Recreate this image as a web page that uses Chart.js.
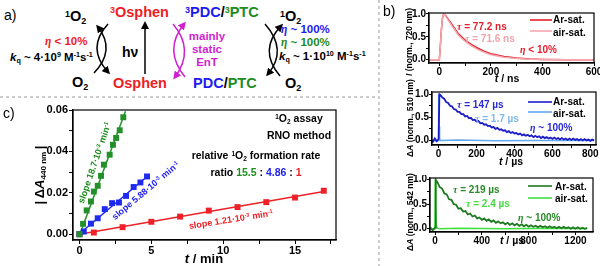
<!DOCTYPE html>
<html>
<head>
<meta charset="utf-8">
<script src="https://cdn.jsdelivr.net/npm/chart.js@4.4.1/dist/chart.umd.min.js"></script>
<style>
html, body { margin: 0; padding: 0; background: #fff; }
#fig { position: relative; width: 600px; height: 266px; overflow: hidden; font-family: "Liberation Sans", Arial, sans-serif; color: #000; }
#fig canvas, #fig svg { position: absolute; }
.t { position: absolute; transform: translate(-50%, -50%); white-space: nowrap; font-weight: bold; line-height: 1; }
.l { position: absolute; transform: translate(0, -50%); white-space: nowrap; font-weight: bold; line-height: 1; }
sup { font-size: .62em; vertical-align: 0; position: relative; top: -.5em; }
sub { font-size: .62em; vertical-align: 0; position: relative; top: .3em; }
.g { font-family: "Liberation Serif", "DejaVu Serif", serif; font-style: italic; }
.a14 { font-size: 14.5px; }
.a11 { font-size: 11.5px; }
.c10 { font-size: 10.5px; }
.s9 { font-size: 9px; }
.yt { font-size: 8.5px; }
.b10 { font-size: 10px; }
.red { color: #ee1c24; }
.blue { color: #1c1cf0; }
.green { color: #1e8c1e; }
.mag { color: #d21fd2; }
</style>
</head>
<body>
<div id="fig">
  <svg width="600" height="266" style="left:0;top:0">
    <defs>
      <marker id="hk" markerWidth="8" markerHeight="8" refX="5" refY="4" orient="auto" markerUnits="userSpaceOnUse">
        <path d="M0,0 L8,4 L0,8 z" fill="#000"/>
      </marker>
      <marker id="hm" markerWidth="8" markerHeight="8" refX="5" refY="4" orient="auto" markerUnits="userSpaceOnUse">
        <path d="M0,0 L8,4 L0,8 z" fill="#d21fd2"/>
      </marker>
    </defs>
    <line x1="379" y1="0" x2="379" y2="266" stroke="#999" stroke-width="1" stroke-dasharray="3,3"/>
    <line x1="0" y1="97" x2="376" y2="97" stroke="#999" stroke-width="1" stroke-dasharray="3,3"/>
    <g fill="none" stroke-width="1.5">
      <path d="M94,73 Q116,50 98,27" stroke="#000" marker-end="url(#hk)"/>
      <path d="M108,24 Q86,48 108,72" stroke="#000" marker-end="url(#hk)"/>
      <path d="M145,74 L145,24" stroke="#000" marker-end="url(#hk)"/>
      <path d="M173,24 Q195,50 175,77" stroke="#d21fd2" marker-end="url(#hm)"/>
      <path d="M185,77 Q163,50 184,24" stroke="#d21fd2" marker-end="url(#hm)"/>
      <path d="M265,24 Q288,50 268,74" stroke="#000" marker-end="url(#hk)"/>
      <path d="M280,76 Q258,50 281,26" stroke="#000" marker-end="url(#hk)"/>
    </g>
  </svg>

  <canvas id="chartC" width="345" height="166" style="left:0;top:100px"></canvas>
  <canvas id="chartB1" width="220" height="88" style="left:380px;top:0"></canvas>
  <canvas id="chartB2" width="220" height="88" style="left:380px;top:88px"></canvas>
  <canvas id="chartB3" width="220" height="91" style="left:380px;top:175px"></canvas>

  <!-- panel a -->
  <div class="l" style="left:4px;top:15px;font-size:14px;font-weight:normal">a)</div>
  <div class="l a14" style="left:65px;top:16px"><sup>1</sup>O<sub>2</sub></div>
  <div class="l a14" style="left:72px;top:82px">O<sub>2</sub></div>
  <div class="l a11 red" style="left:45px;top:42px"><span class="g">η</span> &lt; 10%</div>
  <div class="l a11" style="left:10px;top:58px"><i>k</i><sub>q</sub> ~ 4·10<sup>9</sup> M<sup>-1</sup>s<sup>-1</sup></div>
  <div class="l" style="left:122px;top:52px;font-size:14px">hν</div>
  <div class="l a14 red" style="left:110px;top:12px"><sup>3</sup>Osphen</div>
  <div class="l a14 red" style="left:113px;top:83px">Osphen</div>
  <div class="t a11 mag" style="left:207px;top:49px;line-height:13px;text-align:center">mainly<br>static<br>EnT</div>
  <div class="l a14" style="left:185px;top:12px"><span class="blue"><sup>3</sup>PDC</span>/<span class="green"><sup>3</sup>PTC</span></div>
  <div class="l a14" style="left:193px;top:83px"><span class="blue">PDC</span>/<span class="green">PTC</span></div>
  <div class="l a14" style="left:280px;top:16px"><sup>1</sup>O<sub>2</sub></div>
  <div class="l a14" style="left:285px;top:83px">O<sub>2</sub></div>
  <div class="l a11 blue" style="left:281px;top:30px"><span class="g">η</span> ~ 100%</div>
  <div class="l a11 green" style="left:281px;top:43px"><span class="g">η</span> ~ 100%</div>
  <div class="l a11" style="left:279px;top:57px"><i>k</i><sub>q</sub> ~ 1·10<sup>10</sup> M<sup>-1</sup>s<sup>-1</sup></div>

  <!-- panel c -->
  <div class="l" style="left:3px;top:113px;font-size:14px;font-weight:normal">c)</div>
  <div class="t" style="left:40px;top:175px;font-size:13px;transform:translate(-50%,-50%) rotate(-90deg)">|&thinsp;Δ<i>A</i><sub>440 nm</sub>&thinsp;|</div>
  <div class="t" style="left:204px;top:258px;font-size:13px"><i>t</i> / min</div>
  <div class="t c10" style="left:299px;top:118px"><sup>1</sup>O<sub>2</sub> assay</div>
  <div class="t c10" style="left:299px;top:135px">RNO method</div>
  <div class="t c10" style="left:256px;top:155px">relative <sup>1</sup>O<sub>2</sub> formation rate</div>
  <div class="t c10" style="left:256px;top:172px">ratio <span class="green">15.5</span> : <span class="blue">4.86</span> : <span class="red">1</span></div>
  <div class="t s9 green" style="left:95px;top:163px;transform:translate(-50%,-50%) rotate(-71deg)">slope 18.7·10<sup>-3</sup> min<sup>-1</sup></div>
  <div class="t s9 blue" style="left:146px;top:191px;transform:translate(-50%,-50%) rotate(-40deg)">slope 5.88·10<sup>-3</sup> min<sup>-1</sup></div>
  <div class="t s9 red" style="left:231px;top:220px;transform:translate(-50%,-50%) rotate(-9deg)">slope 1.21·10<sup>-3</sup> min<sup>-1</sup></div>

  <!-- panel b -->
  <div class="l" style="left:383px;top:11px;font-size:14px;font-weight:normal">b)</div>
  <div class="t yt" style="left:409px;top:42px;transform:translate(-50%,-50%) rotate(-90deg)"><i>I</i> (norm., 720 nm)</div>
  <div class="t" style="left:507px;top:78px;font-size:10.5px"><i>t</i> / ns</div>
  <div class="l b10" style="left:457px;top:27px;color:#e3202c"><span class="g">τ</span> = 77.2 ns</div>
  <div class="l b10" style="left:465px;top:39px;color:#f3a3aa"><span class="g">τ</span> = 71.6 ns</div>
  <div class="l b10" style="left:520px;top:50px;color:#e3202c"><span class="g">η</span> &lt; 10%</div>
  <div class="l b10" style="left:553px;top:20px">Ar-sat.</div>
  <div class="l b10" style="left:553px;top:33px">air-sat.</div>

  <div class="t yt" style="left:410px;top:118px;transform:translate(-50%,-50%) rotate(-90deg)">Δ<i>A</i> (norm., 510 nm)</div>
  <div class="t" style="left:511px;top:161px;font-size:10.5px"><i>t</i> / µs</div>
  <div class="l b10" style="left:457px;top:105px;color:#2a2ad2"><span class="g">τ</span> = 147 µs</div>
  <div class="l b10" style="left:475px;top:119px;color:#7cb8f0"><span class="g">τ</span> = 1.7 µs</div>
  <div class="l b10" style="left:530px;top:128px;color:#2a2ad2"><span class="g">η</span> ~ 100%</div>
  <div class="l b10" style="left:553px;top:102px">Ar-sat.</div>
  <div class="l b10" style="left:553px;top:114px">air-sat.</div>

  <div class="t yt" style="left:410px;top:212px;transform:translate(-50%,-50%) rotate(-90deg)">Δ<i>A</i> (norm., 542 nm)</div>
  <div class="t" style="left:512px;top:240px;font-size:10.5px"><i>t</i> / µs</div>
  <div class="l b10" style="left:453px;top:190px;color:#2a8a2a"><span class="g">τ</span> = 219 µs</div>
  <div class="l b10" style="left:466px;top:204px;color:#46d846"><span class="g">τ</span> = 2.4 µs</div>
  <div class="l b10" style="left:518px;top:218px;color:#2a8a2a"><span class="g">η</span> ~ 100%</div>
  <div class="l b10" style="left:555px;top:187px">Ar-sat.</div>
  <div class="l b10" style="left:555px;top:199px">air-sat.</div>
</div>

<script>
// panel c: RNO assay, |dA440| vs time (min)
const ptcTime = [0, 0.25, 0.5, 0.8, 1.0, 1.27, 1.5, 1.7, 2.1, 2.33, 2.55, 2.8, 3.05];
const ptcAbs  = [0, 0.005, 0.0115, 0.0158, 0.0206, 0.0234, 0.0282, 0.0336, 0.0384, 0.0432, 0.0465, 0.0502, 0.0565];
const pdcTime = [0, 0.3, 0.8, 1.27, 1.76, 2.27, 2.75, 3.24, 3.77, 4.24, 4.7];
const pdcAbs  = [0, 0.0013, 0.0051, 0.0077, 0.0121, 0.015, 0.0153, 0.0185, 0.0228, 0.025, 0.0279];
const osTime  = [0, 1, 3, 5, 7, 9, 11, 13, 15, 17];
const osAbs   = [0, 0.0008, 0.0034, 0.006, 0.0085, 0.0114, 0.0131, 0.0155, 0.0177, 0.021];
const ptcFitTime = [0, 3.2],  ptcFitAbs = [-0.0005, 0.0594];
const pdcFitTime = [0, 4.85], pdcFitAbs = [0.0002, 0.0287];
const osFitTime  = [0, 17],   osFitAbs  = [0, 0.0206];
const cXTicks = [0, 2.5, 5, 7.5, 10, 12.5, 15, 17.5];
const cXLabels = [0, 5, 10, 15];
const cYTicks = [0, 0.01, 0.02, 0.03, 0.04, 0.05, 0.06];
const cYLabels = [0, 0.02, 0.04, 0.06];

// panel b top: emission decay, 720 nm
const b1Time = [-40, 0, 4, 8, 12, 17, 25, 35, 50, 75, 100, 125, 150, 175, 200, 250, 300, 350, 400, 500, 600];
const b1Ar   = [0, 0, 0.3, 0.65, 0.9, 1.0, 0.96, 0.88, 0.76, 0.56, 0.43, 0.33, 0.25, 0.18, 0.13, 0.07, 0.035, 0.015, 0.006, 0, 0];
const b1Air  = [0, 0, 0.3, 0.65, 0.9, 1.0, 0.95, 0.86, 0.73, 0.53, 0.40, 0.30, 0.22, 0.16, 0.11, 0.055, 0.027, 0.01, 0.004, 0, 0];
const b1XTicks = [0, 100, 200, 300, 400, 500, 600];
const b1XLabels = [0, 200, 400, 600];

// panel b middle: transient absorption 510 nm
const b2Time = [-40, -30, -20, -10, 0, 4, 10, 20, 30, 40, 50, 60, 70, 80, 90, 100, 110, 120, 130, 140, 150, 160, 170, 180, 190, 200,
  210, 220, 230, 240, 250, 260, 270, 280, 290, 300, 310, 320, 330, 340, 350, 360, 370, 380, 390, 400,
  410, 420, 430, 440, 450, 460, 470, 480, 490, 500, 510, 520, 530, 540, 550, 560, 570, 580, 590, 600,
  610, 620, 630, 640, 650, 660, 670, 680, 690, 700, 710, 720, 730, 740, 750, 760, 770, 780, 790, 800, 810, 820];
const b2Ar = [0.02, -0.03, 0.04, -0.02, 0.03, 1.0, 0.98, 0.93, 0.90, 0.83, 0.81, 0.75, 0.74, 0.68, 0.67, 0.62, 0.62, 0.57, 0.57, 0.52, 0.53, 0.48, 0.49, 0.44, 0.45, 0.41,
  0.42, 0.37, 0.38, 0.34, 0.35, 0.31, 0.32, 0.28, 0.29, 0.25, 0.27, 0.23, 0.24, 0.21, 0.22, 0.18, 0.20, 0.16, 0.18, 0.15,
  0.16, 0.13, 0.15, 0.11, 0.13, 0.10, 0.12, 0.09, 0.11, 0.07, 0.10, 0.07, 0.09, 0.05, 0.08, 0.05, 0.07, 0.04, 0.06, 0.03,
  0.06, 0.03, 0.05, 0.02, 0.05, 0.02, 0.04, 0.01, 0.04, 0.01, 0.04, 0.01, 0.03, 0.00, 0.03, 0.00, 0.03, 0.00, 0.02, -0.01, 0.02, 0.00];
const b2AirTime = [-40, -20, -1, 0, 2, 5, 8, 15, 100, 300, 500, 820];
const b2Air     = [0.01, -0.01, 0, 1.0, 0.3, 0.05, 0, 0, 0.01, -0.01, 0, 0];
const b2XTicks = [0, 100, 200, 300, 400, 500, 600, 700, 800];
const b2XLabels = [0, 200, 400, 600, 800];

// panel b bottom: transient absorption 542 nm
const b3Time = [-40, -20, 0, 6, 20, 40, 60, 80, 100, 120, 140, 160, 180, 200, 220, 240, 260, 280, 300, 320, 340, 360, 380, 400,
  420, 440, 460, 480, 500, 520, 540, 560, 580, 600, 620, 640, 660, 680, 700, 720, 740, 760, 780, 800,
  820, 840, 860, 880, 900, 920, 940, 960, 980, 1000, 1020, 1040, 1060, 1080, 1100, 1120, 1140, 1160, 1180, 1200,
  1220, 1240, 1260, 1280, 1300];
const b3Ar = [0.02, -0.03, 0.02, 1.0, 0.95, 0.85, 0.82, 0.72, 0.70, 0.60, 0.59, 0.50, 0.49, 0.41, 0.42, 0.35, 0.36, 0.29, 0.31, 0.25, 0.27, 0.21, 0.23, 0.18,
  0.21, 0.16, 0.19, 0.14, 0.17, 0.12, 0.15, 0.11, 0.13, 0.09, 0.12, 0.08, 0.11, 0.07, 0.10, 0.06, 0.09, 0.05, 0.08, 0.04,
  0.07, 0.04, 0.06, 0.03, 0.06, 0.03, 0.05, 0.02, 0.05, 0.02, 0.04, 0.01, 0.04, 0.01, 0.04, 0.01, 0.03, 0.00, 0.03, 0.00,
  0.03, 0.00, 0.02, 0.00, 0.02];
const b3AirTime = [-40, -20, -1, 2, 5, 10, 20, 40, 200, 600, 1000, 1300];
const b3Air     = [0.02, -0.02, 0, 1.0, 0.4, 0.08, 0.01, 0, 0.01, 0, 0.01, 0];
const b3XTicks = [0, 200, 400, 600, 800, 1000, 1200];
const b3XLabels = [0, 400, 800, 1200];

const bYTicks = [0, 0.25, 0.5, 0.75, 1.0];
const bYLabels = [0, 0.5, 1.0];

const FONT = '"Liberation Sans", Arial, sans-serif';

function pts(xs, ys) {
  return xs.map((x, i) => ({ x: x, y: ys[i] }));
}

function scale(o) {
  return {
    type: 'linear',
    min: o.min,
    max: o.max,
    afterBuildTicks: s => { s.ticks = o.ticks.map(v => ({ value: v })); },
    afterFit: s => {
      if (o.width) s.width = o.width;
      if (o.height) s.height = o.height;
      s.paddingLeft = 0; s.paddingRight = 0; s.paddingTop = 0; s.paddingBottom = 0;
    },
    grid: { drawOnChartArea: false, drawTicks: true, tickLength: o.tickLen, color: '#000', lineWidth: 1 },
    border: { display: true, color: '#000', width: 1.2 },
    ticks: {
      autoSkip: false, maxRotation: 0, minRotation: 0, padding: o.pad, color: '#000',
      font: { family: FONT, weight: 'bold', size: o.size },
      callback: v => o.labels.includes(v) ? v.toFixed(o.dec) : ''
    }
  };
}

const frame = {
  id: 'frame',
  afterDatasetsDraw(chart) {
    const a = chart.chartArea, ctx = chart.ctx;
    ctx.save();
    ctx.strokeStyle = '#000';
    ctx.lineWidth = 1.2;
    ctx.strokeRect(a.left, a.top, a.right - a.left, a.bottom - a.top);
    ctx.restore();
  }
};

function baseOptions(padding, xs, ys) {
  return {
    responsive: false,
    animation: false,
    devicePixelRatio: 1,
    layout: { padding: padding },
    plugins: { legend: { display: false }, tooltip: { enabled: false } },
    scales: { x: xs, y: ys }
  };
}

function line(data, color, width) {
  return { data: data, showLine: true, borderColor: color, borderWidth: width, pointRadius: 0, tension: 0, fill: false };
}

function markers(data, color) {
  return { data: data, showLine: false, pointStyle: 'rect', pointRadius: 4.2, pointBackgroundColor: color, pointBorderWidth: 0 };
}

const GREEN = '#23902a', BLUE = '#1e2af0', RED = '#ee2028';

new Chart(document.getElementById('chartC'), {
  type: 'scatter',
  data: {
    datasets: [
      markers(pts(ptcTime, ptcAbs), GREEN),
      markers(pts(pdcTime, pdcAbs), BLUE),
      markers(pts(osTime, osAbs), RED),
      line(pts(ptcFitTime, ptcFitAbs), GREEN, 1.5),
      line(pts(pdcFitTime, pdcFitAbs), BLUE, 1.5),
      line(pts(osFitTime, osFitAbs), RED, 1.5)
    ]
  },
  options: baseOptions({ left: 0, top: 10, right: 9, bottom: 0 },
    scale({ min: -0.45, max: 17.85, ticks: cXTicks, labels: cXLabels, dec: 0, size: 11, tickLen: 4, pad: 0, height: 26 }),
    scale({ min: -0.0028, max: 0.06, ticks: cYTicks, labels: cYLabels, dec: 2, size: 11, tickLen: 4, pad: 1, width: 73 })),
  plugins: [frame]
});

// legend line samples for panel b
function legendLines(items) {
  return {
    id: 'legendLines',
    afterDraw(chart) {
      const ctx = chart.ctx;
      items.forEach(it => {
        ctx.save();
        ctx.strokeStyle = it.color;
        ctx.lineWidth = 1.6;
        ctx.beginPath();
        ctx.moveTo(it.x0, it.y);
        ctx.lineTo(it.x1, it.y);
        ctx.stroke();
        ctx.restore();
      });
    }
  };
}

new Chart(document.getElementById('chartB1'), {
  type: 'scatter',
  data: { datasets: [ line(pts(b1Time, b1Air), '#f5a8ae', 1.5), line(pts(b1Time, b1Ar), '#e3202c', 1.5) ] },
  options: baseOptions({ left: 0, top: 13, right: 6, bottom: 0 },
    scale({ min: -40, max: 600, ticks: b1XTicks, labels: b1XLabels, dec: 0, size: 10, tickLen: 3, pad: 0, height: 25 }),
    scale({ min: -0.072, max: 1.02, ticks: bYTicks, labels: bYLabels, dec: 1, size: 10, tickLen: 3, pad: 0, width: 49 })),
  plugins: [frame, legendLines([{ x0: 150, x1: 172, y: 20, color: '#e3202c' }, { x0: 150, x1: 172, y: 31, color: '#f5a8ae' }])]
});

new Chart(document.getElementById('chartB2'), {
  type: 'scatter',
  data: { datasets: [ line(pts(b2Time, b2Ar), '#1c1cc8', 1.8), line(pts(b2AirTime, b2Air), '#62aaf0', 1.5) ] },
  options: baseOptions({ left: 0, top: 4, right: 4, bottom: 0 },
    scale({ min: -35, max: 830, ticks: b2XTicks, labels: b2XLabels, dec: 0, size: 10, tickLen: 3, pad: 0, height: 31 }),
    scale({ min: -0.1, max: 1.05, ticks: bYTicks, labels: bYLabels, dec: 1, size: 10, tickLen: 3, pad: 0, width: 52 })),
  plugins: [frame, legendLines([{ x0: 148, x1: 172, y: 14, color: '#1c1cc8' }, { x0: 148, x1: 172, y: 24, color: '#62aaf0' }])]
});

new Chart(document.getElementById('chartB3'), {
  type: 'scatter',
  data: { datasets: [ line(pts(b3Time, b3Ar), '#1e7a1e', 1.8), line(pts(b3AirTime, b3Air), '#3ee03e', 1.5) ] },
  options: baseOptions({ left: 0, top: 3, right: 7, bottom: 0 },
    scale({ min: -43, max: 1350, ticks: b3XTicks, labels: b3XLabels, dec: 0, size: 10, tickLen: 3, pad: 0, height: 34 }),
    scale({ min: -0.067, max: 1.035, ticks: bYTicks, labels: bYLabels, dec: 1, size: 10, tickLen: 3, pad: 0, width: 50 })),
  plugins: [frame, legendLines([{ x0: 148, x1: 172, y: 11, color: '#1e7a1e' }, { x0: 148, x1: 172, y: 23, color: '#3ee03e' }])]
});
</script>
</body>
</html>
